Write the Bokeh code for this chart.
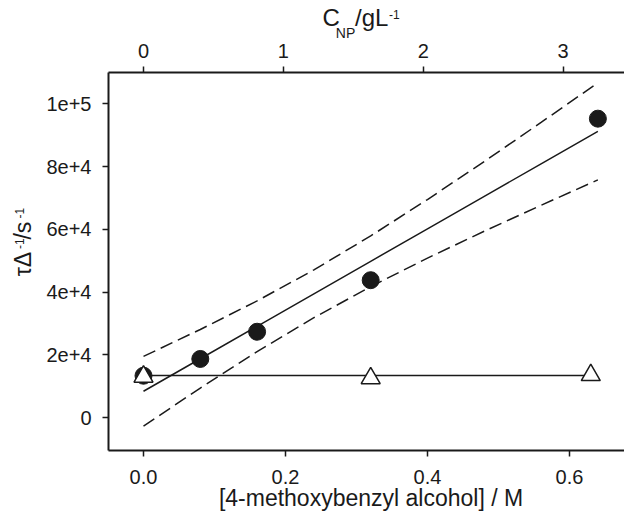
from bokeh.plotting import figure
from bokeh.models import Range1d, LinearAxis, FixedTicker
from bokeh.embed import file_html
from bokeh.resources import INLINE

# ---------------- data ----------------
conc_M = [0.0, 0.08, 0.16, 0.32, 0.64]            # [4-methoxybenzyl alcohol] / M (filled circles)
rate_circles = [13400, 18730, 27400, 43810, 95240]  # tau_Delta^-1 / s^-1

conc_tri = [0.0, 0.32, 0.63]                       # open triangles
rate_tri = [13100, 12600, 13600]

tri_fit_x = [0.0, 0.63]
tri_fit_y = [13430, 13450]

band_x = [0.0, 0.08, 0.16, 0.24, 0.32, 0.40, 0.48, 0.56, 0.64]
fit_y = [8450, 18794, 29138, 39482, 49826, 60170, 70514, 80858, 91202]
upper_y = [19550, 28119, 37213, 47096, 57901, 69495, 81614, 94046, 106662]
lower_y = [-2650, 9469, 21063, 31868, 41751, 50845, 59414, 67670, 75742]

x_ticks = [0.0, 0.2, 0.4, 0.6]
x_tick_labels = ["0.0", "0.2", "0.4", "0.6"]
y_ticks = [0, 20000, 40000, 60000, 80000, 100000]
y_tick_labels = ["0", "2e+4", "4e+4", "6e+4", "8e+4", "1e+5"]
top_ticks = [0, 1, 2, 3]
top_tick_labels = ["0", "1", "2", "3"]

x_title = "[4-methoxybenzyl alcohol] / M"

# ---------------- layout ----------------
W, H = 624, 515
FL, FT, FB = 108, 71, 450   # frame left / top / bottom in canvas px
FONT = "Liberation Sans"
INK = "#1a1a1a"

X0, X1 = -0.0493, 0.6775
Y0, Y1 = -10413, 109937

p = figure(width=W, height=H, output_backend="svg", toolbar_location=None, title=None,
           x_range=Range1d(X0, X1), y_range=Range1d(Y0, Y1),
           x_axis_location=None, y_axis_location=None)
p.min_border_left = FL
p.min_border_top = FT
p.min_border_bottom = H - FB
p.min_border_right = 0
p.outline_line_color = None
p.xgrid.visible = False
p.ygrid.visible = False
p.background_fill_color = "white"
p.border_fill_color = "white"

p.extra_x_ranges = {"cnp": Range1d(X0 * 5.075, X1 * 5.075)}


def px_to_x(cx):
    return X0 + (cx - FL) / (W - FL) * (X1 - X0)


def px_to_y(cy):
    return Y0 + (FB - cy) / (FB - FT) * (Y1 - Y0)


def style_axis(ax, ticks, labels, standoff):
    ax.ticker = FixedTicker(ticks=ticks)
    ax.major_label_overrides = {t: l for t, l in zip(ticks, labels)}
    ax.minor_tick_line_color = None
    ax.major_tick_in = 0
    ax.major_tick_out = 6
    ax.major_tick_line_width = 1.5
    ax.major_tick_line_color = INK
    ax.axis_line_width = 2
    ax.axis_line_color = INK
    ax.major_label_text_font = FONT
    ax.major_label_text_font_size = "20px"
    ax.major_label_text_color = INK
    ax.major_label_standoff = standoff


def text_axis(side, positions, texts, size, standoff, orientation="horizontal"):
    """An axis without line or ticks used only to place title text pieces."""
    ax = LinearAxis()
    ax.ticker = FixedTicker(ticks=positions)
    ax.major_label_overrides = {t: s for t, s in zip(positions, texts)}
    ax.axis_line_color = None
    ax.major_tick_line_color = None
    ax.minor_tick_line_color = None
    ax.major_tick_in = 0
    ax.major_tick_out = 0
    ax.major_label_text_font = FONT
    ax.major_label_text_font_size = f"{size}px"
    ax.major_label_text_color = INK
    ax.major_label_standoff = standoff
    ax.major_label_orientation = orientation
    p.add_layout(ax, side)
    return ax


# main axes (added first so they sit next to the frame)
xb = LinearAxis()
style_axis(xb, x_ticks, x_tick_labels, 13)
p.add_layout(xb, "below")

yl = LinearAxis()
style_axis(yl, y_ticks, y_tick_labels, 11)
p.add_layout(yl, "left")

xt = LinearAxis(x_range_name="cnp")
style_axis(xt, top_ticks, top_tick_labels, 9)
p.add_layout(xt, "above")

# bottom title
text_axis("below", [px_to_x(370.5)], [x_title], 23, -2)

# top title  C_NP / gL^-1   (rows from the frame outward: subscript, main, superscript)
text_axis("above", [px_to_x(345.0)], ["NP"], 14, 0)
text_axis("above", [px_to_x(330.7), px_to_x(371.2)], ["C", "/gL"], 24, -9)
text_axis("above", [px_to_x(393.8)], ["-1"], 12, -18)

# left title  tau_Delta^-1 / s^-1
text_axis("left", [px_to_y(263.0), px_to_y(229.5)], ["τΔ", "/s"], 23, 7, "vertical")
text_axis("left", [px_to_y(242.5), px_to_y(212.0)], ["-1", "-1"], 12, -17, "vertical")

# ---------------- glyphs ----------------
p.line(band_x, upper_y, line_color=INK, line_width=1.5, line_dash="13 6")
p.line(band_x, lower_y, line_color=INK, line_width=1.5, line_dash="13 6")
p.line(band_x, fit_y, line_color=INK, line_width=1.5)
p.line(tri_fit_x, tri_fit_y, line_color=INK, line_width=1.5)

p.scatter(conc_M, rate_circles, marker="circle", size=17, fill_color=INK, line_color=INK)
p.scatter(conc_tri, rate_tri, marker="triangle", size=19, fill_color="white",
          line_color=INK, line_width=1.5)

open("out.html", "w").write(file_html(p, INLINE))
